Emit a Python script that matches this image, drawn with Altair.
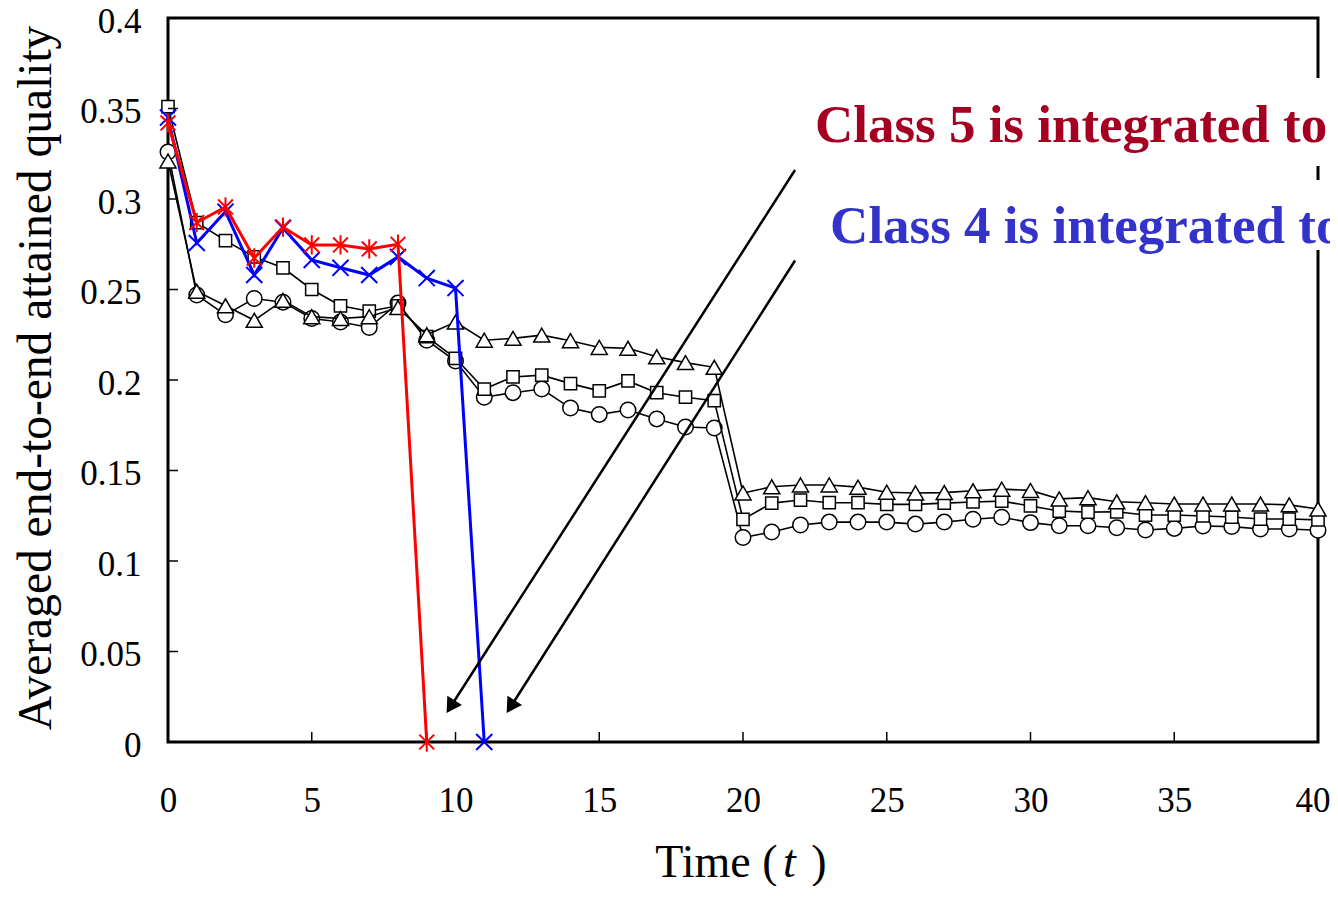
import altair as alt
import pandas as pd

# ---------------- data ----------------
t_all = list(range(41))

circle_vals = [0.326, 0.247, 0.236, 0.245, 0.243, 0.234, 0.232, 0.229, 0.2425, 0.222,
               0.2105, 0.1905, 0.193, 0.195, 0.1845, 0.181, 0.1834, 0.1785, 0.174, 0.1735,
               0.113, 0.116, 0.1199, 0.1215, 0.1215, 0.1215, 0.1204, 0.1215, 0.1231, 0.1242,
               0.1212, 0.1195, 0.1195, 0.1184, 0.1171, 0.118, 0.1193, 0.119, 0.1177, 0.1177,
               0.117]

square_vals = [0.351, 0.287, 0.277, 0.268, 0.262, 0.250, 0.241, 0.238, 0.241, 0.224,
               0.212, 0.195, 0.2017, 0.2027, 0.198, 0.194, 0.1995, 0.193, 0.1905, 0.1886,
               0.123, 0.132, 0.1337, 0.1322, 0.1322, 0.1313, 0.1313, 0.132, 0.1326, 0.1331,
               0.1304, 0.1276, 0.127, 0.1272, 0.1254, 0.1254, 0.1249, 0.1243, 0.1232, 0.1232,
               0.1227]

triangle_vals = [0.321, 0.249, 0.241, 0.233, 0.244, 0.235, 0.234, 0.235, 0.240, 0.225,
                 0.232, 0.222, 0.223, 0.2248, 0.2217, 0.218, 0.2175, 0.2128, 0.2096, 0.207,
                 0.1376, 0.141, 0.142, 0.142, 0.1408, 0.138, 0.1376, 0.1378, 0.1388, 0.1397,
                 0.139, 0.1343, 0.135, 0.1327, 0.1322, 0.1315, 0.1315, 0.1315, 0.1315, 0.131,
                 0.1287]

red_t = list(range(10))
red_vals = [0.342, 0.287, 0.2956, 0.2674, 0.2845, 0.2746, 0.2746, 0.2724, 0.275, 0.0]

blue_t = list(range(12))
blue_vals = [0.345, 0.2757, 0.293, 0.258, 0.284, 0.2663, 0.262, 0.258, 0.268, 0.2563,
             0.2508, 0.0]

x_ticks = [0, 5, 10, 15, 20, 25, 30, 35, 40]
y_ticks = [0, 0.05, 0.1, 0.15, 0.2, 0.25, 0.3, 0.35, 0.4]

y_title = "Averaged end-to-end attained quality"
x_title_parts = ["Time (", "t", ")"]
x_title_pos = [21.2, 21.39, 22.37]
x_title_align = ["right", "left", "left"]
x_title_v = -0.0746

note_texts = ["Class 5 is integrated to", "Class 4 is integrated to"]
note_t = [22.5, 23.03]
note_v = [0.3315, 0.2757]
note_colors = ["#A50021", "#3333CC"]

# annotation arrows (start -> arrowhead centre)
arrow_start_t = [21.81, 21.81]
arrow_start_v = [0.316, 0.266]
arrow_head_t = [9.83, 11.92]
arrow_head_v = [0.0195, 0.0195]

# white boxes behind the annotation texts
box_t = [22.2, 22.2]
box_t2 = [41.5, 41.5]
box_v = [0.3669, 0.3105]
box_v2 = [0.3182, 0.2718]

FONT = "Liberation Serif"

# ---------------- encodings ----------------
xs = alt.Scale(domain=[0, 40], nice=False, zero=False)
ys = alt.Scale(domain=[0, 0.4], nice=False, zero=False)

x_axis = alt.Axis(values=x_ticks, labelFont=FONT, labelFontSize=35, labelColor="black",
                  labelPadding=41, ticks=False, tickSize=0, domain=False, grid=False,
                  title=None, labelFlush=False,
                  labelAlign={"condition": {"test": "datum.value == 40", "value": "right"},
                              "value": "center"},
                  labelOffset={"condition": {"test": "datum.value == 40", "value": 12},
                               "value": 0})
y_axis = alt.Axis(values=y_ticks, format=".2~f", labelFont=FONT, labelFontSize=35,
                  labelColor="black", labelPadding=27, labelOffset=3, ticks=False,
                  tickSize=0, domain=False, grid=False, title=y_title, titleFont=FONT,
                  titleFontSize=47.5, titleFontWeight="normal", titleColor="black",
                  titleAngle=270, titleAlign="center", titleBaseline="alphabetic",
                  titleX=-118, titleY=359.5, labelFlush=False)

def X():
    return alt.X("t:Q", scale=xs, axis=x_axis)

def Y():
    return alt.Y("v:Q", scale=ys, axis=y_axis)


def series(ts, vals, shape, stroke, line_w, size, fill, sw):
    df = pd.DataFrame({"t": ts, "v": vals})
    base = alt.Chart(df).encode(x=X(), y=Y())
    line = base.mark_line(color=stroke, strokeWidth=line_w)
    if fill is None:
        pts = base.mark_point(shape=shape, size=size, filled=False, stroke=stroke,
                              strokeWidth=sw, opacity=1)
    else:
        pts = base.mark_point(shape=shape, size=size, filled=True, fill=fill,
                              stroke=stroke, strokeWidth=sw, opacity=1)
    return [line, pts]


layers = []
layers += series(t_all, circle_vals, "circle", "black", 1.6, 240, "white", 1.5)
layers += series(t_all, square_vals, "square", "black", 1.6, 150, "white", 1.5)
layers += series(t_all, triangle_vals, "triangle-up", "black", 1.6, 260, "white", 1.5)
layers += series(blue_t, blue_vals, "M-1,-1L1,1M-1,1L1,-1", "#0000FF", 3, 260, None, 2)
layers += series(red_t, red_vals, "M-1,-1L1,1M-1,1L1,-1M0,-1.3L0,1.3", "#FF0000", 3, 220, None, 2)

# inward axis ticks (clipped to plot area)
xt_df = pd.DataFrame({"t": x_ticks, "v": [0] * len(x_ticks)})
yt_df = pd.DataFrame({"t": [0] * len(y_ticks), "v": y_ticks})
layers.append(alt.Chart(xt_df).mark_tick(orient="vertical", size=20, thickness=1.5,
                                         color="black", clip=True, opacity=1)
              .encode(x=X(), y=Y()))
layers.append(alt.Chart(yt_df).mark_tick(orient="horizontal", size=20, thickness=1.5,
                                         color="black", clip=True, opacity=1)
              .encode(x=X(), y=Y()))

# arrows
arr_rows = []
for i in range(2):
    arr_rows.append({"t": arrow_start_t[i], "v": arrow_start_v[i], "g": i})
    arr_rows.append({"t": arrow_head_t[i], "v": arrow_head_v[i], "g": i})
arr_df = pd.DataFrame(arr_rows)
layers.append(alt.Chart(arr_df).mark_line(color="black", strokeWidth=2.5)
              .encode(x=X(), y=Y(), detail="g:N"))
head_df = pd.DataFrame({"t": arrow_head_t, "v": arrow_head_v})
layers.append(alt.Chart(head_df).mark_point(shape="triangle-up", size=300, filled=True,
                                            color="black", angle=212.5, opacity=1)
              .encode(x=X(), y=Y()))

# white boxes behind notes
box_df = pd.DataFrame({"t": box_t, "t2": box_t2, "v": box_v, "v2": box_v2})
layers.append(alt.Chart(box_df).mark_rect(color="white", opacity=1)
              .encode(x=X(), x2="t2:Q", y=Y(), y2="v2:Q"))

# notes
for i in range(2):
    ndf = pd.DataFrame({"t": [note_t[i]], "v": [note_v[i]], "txt": [note_texts[i]]})
    layers.append(alt.Chart(ndf).mark_text(font=FONT, fontSize=53, fontWeight="bold",
                                           color=note_colors[i], align="left",
                                           baseline="alphabetic")
                  .encode(x=X(), y=Y(), text="txt:N"))

# x-axis title with italic t
for i in range(3):
    tdf = pd.DataFrame({"t": [x_title_pos[i]], "v": [x_title_v], "txt": [x_title_parts[i]]})
    layers.append(alt.Chart(tdf).mark_text(font=FONT, fontSize=46,
                                           fontStyle="italic" if i == 1 else "normal",
                                           color="black", align=x_title_align[i],
                                           baseline="alphabetic")
                  .encode(x=X(), y=Y(), text="txt:N"))

chart = (alt.layer(*layers)
         .properties(width=1150, height=724,
                     autosize=alt.AutoSizeParams(type="none"),
                     padding={"left": 160, "top": 10, "right": 12, "bottom": 144},
                     background="white")
         .configure_view(stroke="black", strokeWidth=3))

chart.save("out.html", embed_options={"renderer": "svg", "actions": False})
